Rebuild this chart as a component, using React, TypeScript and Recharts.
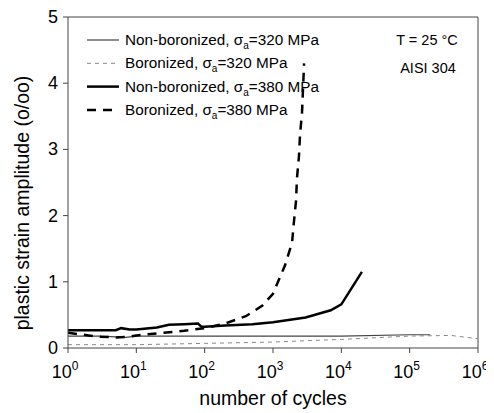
import { LineChart, Line, XAxis, YAxis, Legend, ReferenceLine } from "recharts";

// cycles (N) and plastic strain amplitude (o/oo)
const nb320 = [
  { n: 1, v: 0.18 }, { n: 3, v: 0.18 }, { n: 7, v: 0.16 }, { n: 10, v: 0.18 },
  { n: 100, v: 0.18 }, { n: 1000, v: 0.18 }, { n: 10000, v: 0.18 },
  { n: 100000, v: 0.2 }, { n: 200000, v: 0.2 },
];
const b320 = [
  { n: 1, v: 0.05 }, { n: 10, v: 0.05 }, { n: 100, v: 0.07 }, { n: 1000, v: 0.09 },
  { n: 10000, v: 0.13 }, { n: 100000, v: 0.18 }, { n: 400000, v: 0.19 }, { n: 1000000, v: 0.14 },
];
const nb380 = [
  { n: 1, v: 0.27 }, { n: 2, v: 0.27 }, { n: 5, v: 0.27 }, { n: 6, v: 0.3 },
  { n: 8, v: 0.28 }, { n: 10, v: 0.28 }, { n: 20, v: 0.31 }, { n: 30, v: 0.35 },
  { n: 50, v: 0.36 }, { n: 80, v: 0.37 }, { n: 90, v: 0.32 }, { n: 100, v: 0.32 },
  { n: 200, v: 0.34 }, { n: 500, v: 0.36 }, { n: 1000, v: 0.39 }, { n: 3000, v: 0.46 },
  { n: 7000, v: 0.57 }, { n: 10000, v: 0.66 }, { n: 20000, v: 1.15 },
];
const b380 = [
  { n: 1, v: 0.23 }, { n: 2, v: 0.19 }, { n: 3, v: 0.17 }, { n: 5, v: 0.16 },
  { n: 8, v: 0.17 }, { n: 10, v: 0.19 }, { n: 20, v: 0.22 }, { n: 50, v: 0.26 },
  { n: 100, v: 0.3 }, { n: 200, v: 0.37 }, { n: 400, v: 0.48 }, { n: 700, v: 0.64 },
  { n: 1000, v: 0.82 }, { n: 1500, v: 1.25 }, { n: 1900, v: 1.59 }, { n: 2030, v: 1.92 },
  { n: 2170, v: 2.22 }, { n: 2245, v: 2.57 }, { n: 2400, v: 2.9 }, { n: 2485, v: 3.22 },
  { n: 2660, v: 3.56 }, { n: 2850, v: 4.3 },
];
const xTicks = [1, 10, 100, 1000, 10000, 100000, 1000000];
const yTicks = [0, 1, 2, 3, 4, 5];

const FONT = "'Liberation Sans', Arial, sans-serif";
const W = 486;
const H = 405;

const legendRows = [
  { label: "Non-boronized", mpa: "320", stroke: "#444", w: 1.2, dash: undefined },
  { label: "Boronized", mpa: "320", stroke: "#888", w: 1, dash: "4 4" },
  { label: "Non-boronized", mpa: "380", stroke: "#000", w: 2.5, dash: undefined },
  { label: "Boronized", mpa: "380", stroke: "#000", w: 2.5, dash: "9 7" },
];

function XTick({ x, y, payload }: any) {
  const e = Math.round(Math.log10(payload.value));
  return (
    <text x={x - 3} y={y + 23} textAnchor="middle" fontFamily={FONT} fontSize={18} fill="#000">
      <tspan>10</tspan>
      <tspan dy={-8} fontSize={12}>{e}</tspan>
    </text>
  );
}

function YTick({ x, y, payload }: any) {
  return (
    <text x={x - 3} y={y + 6} textAnchor="end" fontFamily={FONT} fontSize={18} fill="#000">
      {payload.value}
    </text>
  );
}

function YLabel() {
  return (
    <text x={0} y={0} transform="translate(21,195) rotate(-90)" textAnchor="middle" fontFamily={FONT} fontSize={19.5} fill="#000">
      plastic strain amplitude (o/oo)
    </text>
  );
}

function XLabel() {
  return (
    <text x={265} y={397} textAnchor="middle" fontFamily={FONT} fontSize={19.5} fill="#000">
      number of cycles
    </text>
  );
}

function LegendBox() {
  return (
    <svg width={W} height={H} style={{ position: "absolute", left: 0, top: 0 }}>
      {legendRows.map((r, i) => {
        const y = 32 + i * 23.3;
        return (
          <g key={i}>
            <line x1={79} x2={111} y1={y} y2={y} stroke={r.stroke} strokeWidth={r.w} strokeDasharray={r.dash} />
            <text x={117} y={y + 5} fontFamily={FONT} fontSize={15.3} fill="#000">
              {r.label}, σ
              <tspan dy={4} fontSize={10}>a</tspan>
              <tspan dy={-4}>={r.mpa} MPa</tspan>
            </text>
          </g>
        );
      })}
      <text x={419} y={37} textAnchor="middle" fontFamily={FONT} fontSize={14.5}>T = 25 °C</text>
      <text x={420} y={65} textAnchor="middle" fontFamily={FONT} fontSize={14.5}>AISI 304</text>
    </svg>
  );
}

export default function App() {
  return (
    <div style={{ width: W, height: H, position: "relative" }}>
      <LineChart width={W} height={H} margin={{ top: 9, right: 16, left: 0, bottom: 0 }}>
        <XAxis
          dataKey="n"
          type="number"
          scale="log"
          domain={[1, 1000000]}
          ticks={xTicks}
          interval={0}
          allowDataOverflow
          height={65}
          stroke="#444"
          tickSize={5}
          tick={<XTick />}
          label={<XLabel />}
        />
        <YAxis
          type="number"
          domain={[0, 5]}
          ticks={yTicks}
          interval={0}
          width={60}
          stroke="#444"
          tickSize={5}
          tick={<YTick />}
          label={<YLabel />}
        />
        <ReferenceLine y={5} stroke="#444" />
        <ReferenceLine x={1000000} stroke="#444" />
        <Legend
          layout="horizontal"
          verticalAlign="middle"
          align="center"
          wrapperStyle={{ position: "absolute", left: 0, top: 0, width: W, height: H, pointerEvents: "none" }}
          content={() => <LegendBox />}
        />
        <Line data={nb320} dataKey="v" type="linear" stroke="#444" strokeWidth={1.2} dot={false} isAnimationActive={false} />
        <Line data={b320} dataKey="v" type="linear" stroke="#888" strokeWidth={1} strokeDasharray="4 4" dot={false} isAnimationActive={false} />
        <Line data={nb380} dataKey="v" type="linear" stroke="#000" strokeWidth={2.5} dot={false} isAnimationActive={false} />
        <Line data={b380} dataKey="v" type="linear" stroke="#000" strokeWidth={2.5} strokeDasharray="9 7" dot={false} isAnimationActive={false} />
      </LineChart>
    </div>
  );
}
